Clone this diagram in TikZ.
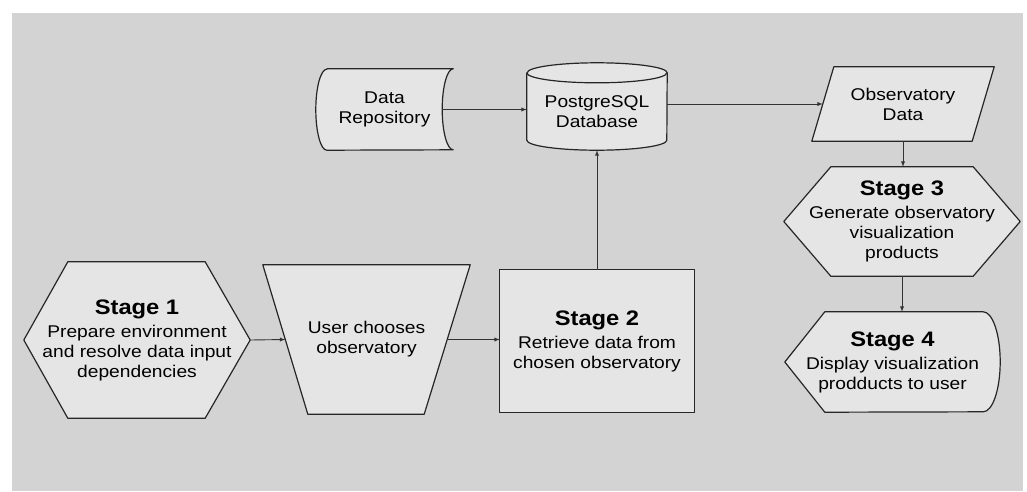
\documentclass[tikz,border=0pt]{standalone}
\usepackage{fontspec}
\usetikzlibrary{backgrounds}
\newfontfamily\diagfont{Liberation Sans}[FakeStretch=1.13]
\definecolor{bggray}{HTML}{D3D3D3}
\definecolor{boxgray}{HTML}{E5E5E5}
\newcommand{\stagetitle}[1]{{\bfseries\fontsize{21}{20}\selectfont #1}\\[3pt]}
\tikzset{
  box/.style={inner sep=0pt,align=center,font=\diagfont\fontsize{17}{20}\selectfont},
  outline/.style={draw=black!85,fill=boxgray,line width=1.2pt,line join=round},
  arr/.style={-latex,draw=black!80,line width=0.9pt}
}
\begin{document}
\begin{tikzpicture}[x=1pt,y=-1pt]
    \useasboundingbox (0,0) rectangle (1027,491);
    \node[box,minimum width=226pt,minimum height=156pt] (s1) at (137,340) {\stagetitle{Stage 1}Prepare environment\\and resolve data input\\dependencies};
    \node[box,minimum width=207pt,minimum height=149pt] (user) at (366.5,339.5) {User chooses\\observatory};
    \node[box,minimum width=194pt,minimum height=142pt] (s2) at (597,341) {\stagetitle{Stage 2}Retrieve data from\\chosen observatory};
    \node[box,minimum width=137pt,minimum height=81pt] (repo) at (384.5,109.5) {Data\\Repository};
    \node[box,minimum width=140pt,minimum height=77pt] (db) at (597,111.5) {PostgreSQL\\Database};
    \node[box,minimum width=182pt,minimum height=74pt] (obs) at (903,104) {Observatory\\Data};
    \node[box,minimum width=236pt,minimum height=109pt] (s3) at (902,221.5) {\stagetitle{Stage 3}Generate observatory\\visualization\\products};
    \node[box,minimum width=215pt,minimum height=100pt] (s4) at (892.5,362) {\stagetitle{Stage 4}Display visualization\\prodducts to user};
    \draw[arr] (s1.east) -- ([xshift=22.5pt]user.west);
    \draw[arr] ([xshift=-23pt]user.east) -- (user.east -| s2.west);
    \draw[arr] (s2.north) -- (db.south);
    \draw[arr] ([xshift=-11pt]repo.east) -- (repo.east -| db.west);
    \draw[arr] (obs.west -| db.east) -- ([xshift=11pt]obs.west);
    \draw[arr] (obs.south) -- (obs.south |- s3.north);
    \draw[arr] (s3.south) -- (s3.south |- s4.north);
    \begin{scope}[on background layer]
      \fill[white] (0,0) rectangle (1027,491);
      \fill[bggray] (12,13) rectangle (1023,491);
      \draw[outline] (s1.west) -- ([xshift=44pt]s1.north west) -- ([xshift=-45pt]s1.north east) -- (s1.east) -- ([xshift=-45pt]s1.south east) -- ([xshift=44pt]s1.south west) -- cycle;
      \draw[outline] (user.north west) -- (user.north east) -- ([xshift=-46pt]user.south east) -- ([xshift=45pt]user.south west) -- cycle;
      \draw[outline] (s2.north west) rectangle (s2.south east);
      \draw[outline] ([xshift=11pt]repo.north west) -- (repo.north east) arc[start angle=90,end angle=270,x radius=11pt,y radius=40.5pt] -- ([xshift=11pt]repo.south west) arc[start angle=270,end angle=90,x radius=11pt,y radius=40.5pt] -- cycle;
      \draw[outline] (db.north west) -- ([yshift=10pt]db.south west) arc[start angle=180,end angle=360,x radius=70pt,y radius=10pt] -- (db.north east) arc[start angle=0,end angle=180,x radius=70pt,y radius=10pt] -- cycle;
      \draw[outline,fill=none] (db.north west) arc[start angle=180,end angle=360,x radius=70pt,y radius=10pt];
      \draw[outline] ([xshift=22pt]obs.north west) -- (obs.north east) -- ([xshift=-22pt]obs.south east) -- (obs.south west) -- cycle;
      \draw[outline] (s3.west) -- ([xshift=47pt]s3.north west) -- ([xshift=-47pt]s3.north east) -- (s3.east) -- ([xshift=-47pt]s3.south east) -- ([xshift=47pt]s3.south west) -- cycle;
      \draw[outline] (s4.west) -- ([xshift=40pt]s4.north west) -- ([xshift=-17pt]s4.north east) arc[start angle=90,end angle=-90,x radius=17pt,y radius=50pt] -- ([xshift=40pt]s4.south west) -- cycle;
    \end{scope}
  \end{tikzpicture}
\end{document}
